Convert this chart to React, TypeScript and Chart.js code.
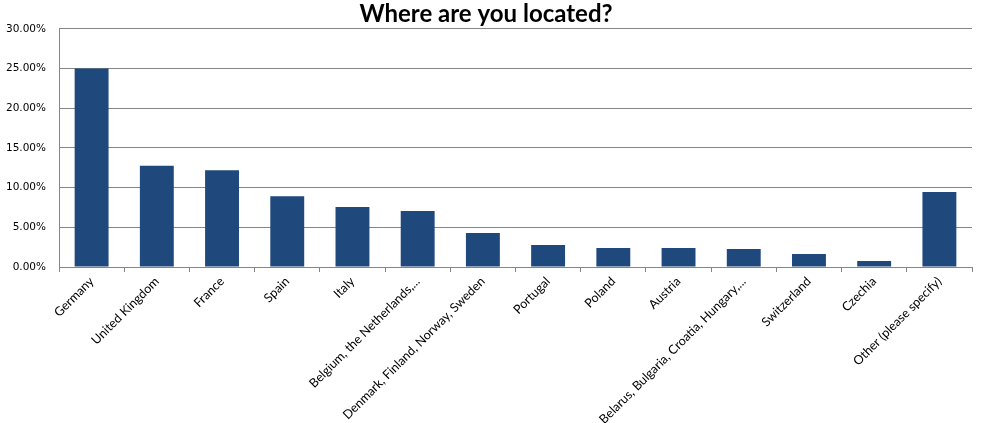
import React, { useEffect, useRef } from "react";
import { Chart, registerables } from "chart.js";

Chart.register(...registerables);

const categories: string[] = [
  "Germany",
  "United Kingdom",
  "France",
  "Spain",
  "Italy",
  "Belgium, the Netherlands,...",
  "Denmark, Finland, Norway, Sweden",
  "Portugal",
  "Poland",
  "Austria",
  "Belarus, Bulgaria, Croatia, Hungary,...",
  "Switzerland",
  "Czechia",
  "Other (please specify)",
];

const shares: number[] = [25.0, 12.74, 12.2, 8.9, 7.57, 7.06, 4.29, 2.77, 2.4, 2.4, 2.27, 1.64, 0.76, 9.46];

const yMax = 30;
const yStep = 5;
const titleText = "Where are you located?";

export default function App() {
  const ref = useRef<HTMLCanvasElement | null>(null);

  useEffect(() => {
    if (!ref.current) return;
    const grid = "#868686";
    const chart = new Chart(ref.current, {
      type: "bar",
      data: {
        labels: categories,
        datasets: [
          {
            data: shares,
            backgroundColor: "#1F497D",
            borderWidth: 0,
            categoryPercentage: 1,
            barPercentage: 0.52,
          },
        ],
      },
      options: {
        responsive: false,
        animation: false,
        devicePixelRatio: 1,
        layout: { padding: { left: 0, right: 10, top: 0, bottom: 0 } },
        plugins: {
          legend: { display: false },
          tooltip: { enabled: false },
          title: {
            display: true,
            text: titleText,
            color: "#000",
            font: { family: "Lato", weight: "bold", size: 24, lineHeight: 1.2 },
            padding: { top: 0, bottom: 0 },
          },
        },
        scales: {
          x: {
            grid: {
              offset: true,
              drawOnChartArea: false,
              drawTicks: true,
              tickLength: 5,
              color: grid,
            },
            border: { display: true, color: grid },
            ticks: {
              minRotation: 45,
              maxRotation: 45,
              autoSkip: false,
              padding: 2,
              color: "#000",
              font: { family: "Lato", size: 12.5 },
            },
            afterFit: (scale: any) => {
              scale.height = 156;
            },
          },
          y: {
            min: 0,
            max: yMax,
            ticks: {
              stepSize: yStep,
              padding: 13,
              color: "#000",
              font: { family: "DejaVu Sans", size: 10.5 },
              callback: (v: any) => Number(v).toFixed(2) + "%",
            },
            grid: { color: grid, drawTicks: false },
            border: { display: true, color: grid },
            afterFit: (scale: any) => {
              scale.width = 59;
            },
          },
        },
      },
    });
    return () => chart.destroy();
  }, []);

  return (
    <div style={{ position: "absolute", left: 0, top: 0, width: 982, height: 423, background: "#fff" }}>
      <canvas ref={ref} width={982} height={423} style={{ display: "block" }} />
    </div>
  );
}
